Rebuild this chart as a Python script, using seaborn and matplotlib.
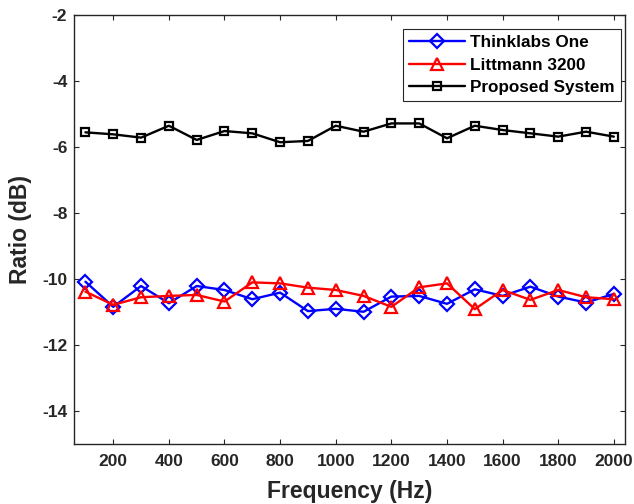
import matplotlib
matplotlib.use("Agg")
import matplotlib.pyplot as plt
import seaborn as sns
import pandas as pd

# Frequency bins (Hz)
freq = [100, 200, 300, 400, 500, 600, 700, 800, 900, 1000,
        1100, 1200, 1300, 1400, 1500, 1600, 1700, 1800, 1900, 2000]

# Ratio (dB) per device
thinklabs = [-10.08, -10.84, -10.21, -10.73, -10.21, -10.33, -10.61, -10.41, -10.97, -10.90,
             -10.99, -10.53, -10.51, -10.75, -10.31, -10.51, -10.23, -10.53, -10.71, -10.45]
littmann = [-10.38, -10.78, -10.55, -10.51, -10.48, -10.68, -10.10, -10.13, -10.26, -10.33,
            -10.51, -10.84, -10.25, -10.13, -10.91, -10.33, -10.63, -10.33, -10.55, -10.61]
proposed = [-5.56, -5.62, -5.72, -5.36, -5.79, -5.52, -5.59, -5.86, -5.82, -5.36,
            -5.54, -5.29, -5.29, -5.74, -5.36, -5.49, -5.59, -5.69, -5.54, -5.69]

series_names = ["Thinklabs One", "Littmann 3200", "Proposed System"]
series_colors = ["#0000ff", "#ff0000", "#000000"]
series_markers = ["D", "^", "s"]
series_msize = [6.8, 9, 5.5]

df = pd.DataFrame({"Frequency": freq * 3,
                   "Ratio": thinklabs + littmann + proposed,
                   "Device": [n for n in series_names for _ in freq]})

sns.set_style("ticks", {"xtick.direction": "in", "ytick.direction": "in"})
plt.rcParams["font.family"] = ["Liberation Sans", "DejaVu Sans"]
plt.rcParams["font.weight"] = "bold"
plt.rcParams["axes.unicode_minus"] = False

text_col = "#262626"

fig = plt.figure(figsize=(6.34, 5.04), dpi=100)
ax = fig.add_axes([74.3 / 634, 1 - 444.3 / 504, (625 - 74.3) / 634, (444.3 - 14.7) / 504])

for name, col, mk, ms in zip(series_names, series_colors, series_markers, series_msize):
    sub = df[df["Device"] == name]
    sns.lineplot(data=sub, x="Frequency", y="Ratio", ax=ax, color=col, marker=mk,
                 markersize=ms, markerfacecolor="none", markeredgecolor=col,
                 markeredgewidth=1.6, linewidth=1.7, label=name)

ax.set_xlim(60, 2040)
ax.set_ylim(-15, -2)
ax.set_xticks(range(200, 2001, 200))
ax.set_yticks(range(-14, -1, 2))

for s in ax.spines.values():
    s.set_visible(True)
    s.set_linewidth(1.0)
    s.set_color(text_col)

ax.tick_params(axis="both", which="both", direction="in", top=True, right=True,
               length=3.6, width=0.8, color=text_col, labelcolor=text_col, labelsize=12.5)
ax.tick_params(axis="x", pad=7)
ax.tick_params(axis="y", pad=5)
for lab in ax.get_xticklabels() + ax.get_yticklabels():
    lab.set_fontweight("bold")

ax.set_xlabel("Frequency (Hz)", fontsize=16.5, fontweight="bold", color=text_col, labelpad=8)
ax.set_ylabel("Ratio (dB)", fontsize=16.5, fontweight="bold", color=text_col, labelpad=7)

leg = ax.legend(loc="upper right", bbox_to_anchor=(0.9927, 0.9667), borderaxespad=0,
                fancybox=False, framealpha=1, edgecolor=text_col,
                handlelength=3.3, handletextpad=0.3, labelspacing=0.45,
                borderpad=0.35, prop={"weight": "bold", "size": 12.3})
leg.get_frame().set_linewidth(0.8)
for t in leg.get_texts():
    t.set_color("#000000")

fig.savefig("out.png", dpi=100)
